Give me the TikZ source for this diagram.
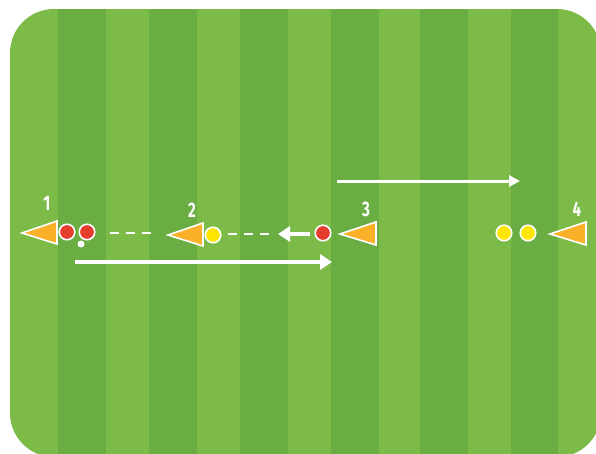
\documentclass[tikz,border=0pt]{standalone}
\usepackage{fontspec}
\usetikzlibrary{arrows.meta}
\newfontfamily\lblfont[FakeStretch=0.72]{Fira Sans}
\definecolor{gl}{RGB}{125,187,72}
\definecolor{gd}{RGB}{106,173,67}
\definecolor{cone}{RGB}{250,176,40}
\definecolor{pred}{RGB}{230,60,45}
\definecolor{pyel}{RGB}{255,230,0}
\tikzset{
  conebox/.style={fill=cone,draw=white,line width=1.6pt,line join=miter},
  redplayer/.style={circle,fill=pred,draw=white,line width=1.6pt,minimum size=15.5pt,inner sep=0pt},
  yelplayer/.style={circle,fill=pyel,draw=white,line width=1.6pt,minimum size=15.5pt,inner sep=0pt},
  ball/.style={circle,fill=white,minimum size=7pt,inner sep=0pt},
  lbl/.style={text=white,font=\lblfont\bfseries\fontsize{21}{21}\selectfont,inner sep=0pt},
  pass/.style={draw=white,line width=2.5pt,dash pattern=on 9pt off 7pt},
  run/.style={draw=white,line width=3.5pt,-{Triangle[length=12pt,width=15pt]}},
  run2/.style={draw=white,line width=3pt,-{Triangle[length=11pt,width=11pt]}},
}
\begin{document}
\begin{tikzpicture}[x=1pt,y=-1pt]
\useasboundingbox (0,0) rectangle (596,453);
\fill[white] (0,0) rectangle (596,453);
\begin{scope}
\clip (0,0) rectangle (596,453);
\clip[rounded corners=44pt] (10,9) rectangle (601,457);
\fill[gl] (10,9) rectangle (601,457);
\foreach \a/\b in {58/106,149/197,240/288,331/379,420/468,511/558}{
  \fill[gd] (\a,0) rectangle (\b,460);
}
\end{scope}
% cones
\path[conebox] (22,233) -- (57,221) -- (57,244) -- cycle;
\path[conebox] (168,235) -- (203,223) -- (203,246) -- cycle;
\path[conebox] (340,234) -- (376,222) -- (376,245) -- cycle;
\path[conebox] (550,234) -- (586,222) -- (586,245) -- cycle;
% labels
\node[lbl] (l1) at (47,203) {1};
\node[lbl] (l2) at (192,210) {2};
\node[lbl] (l3) at (366,209) {3};
\node[lbl] (l4) at (577,209) {4};
% players
\node[redplayer] (r1) at (67,232) {};
\node[redplayer] (r2) at (87,232) {};
\node[ball] (b1) at (81,244) {};
\node[yelplayer] (y2) at (213,235) {};
\node[redplayer] (r3) at (323,233) {};
\node[yelplayer] (y4a) at (504,233) {};
\node[yelplayer] (y4b) at (528,233) {};
% coordinates
\coordinate (p1s) at (110,233);
\coordinate (p1e) at (158,233);
\coordinate (p2s) at (228,234);
\coordinate (p2e) at (275,234);
\coordinate (a3s) at (310,234);
\coordinate (a3e) at (278,234);
\coordinate (rs) at (75,262);
\coordinate (re) at (332,262);
\coordinate (us) at (337,181);
\coordinate (ue) at (520,181);
% connectors
\draw[pass] (p1s) -- (p1e);
\draw[pass] (p2s) -- (p2e);
\draw[draw=white,line width=3.5pt,-{Triangle[length=12pt,width=15pt]}] (a3s) -- (a3e);
\draw[run] (rs) -- (re);
\draw[run2] (us) -- (ue);
\end{tikzpicture}
\end{document}
